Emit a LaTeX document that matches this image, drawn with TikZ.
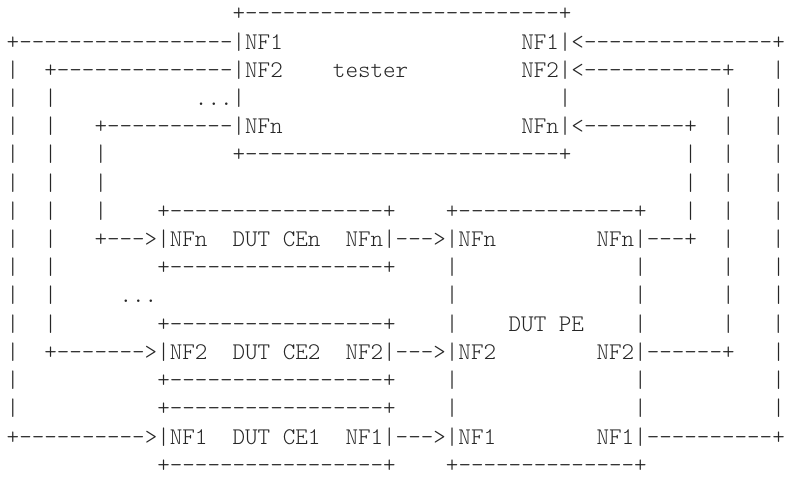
\documentclass[tikz,border=0pt]{standalone}
\usepackage{fontspec}
\newfontfamily\asciifont{lmmonolt10-regular.otf}[Ligatures=TeXOff]
\newdimen\cwd \cwd=12.55pt
\newcount\rc
\newcommand\D[1]{\rc=#1\relax\loop\ifnum\rc>0 -\advance\rc by -1 \repeat}
\newcommand\B[1]{\hspace*{#1\cwd}}
\tikzset{row/.style={anchor=base west, inner sep=0pt, outer sep=0pt,
  font=\asciifont\fontsize{23.905}{28}\selectfont, text=black!85}}
\newcommand\R[2]{\node[row] (r#1) at (6.7pt, {456pt-(#1-1)*28.2pt}) {#2};}
\begin{document}
\begin{tikzpicture}
\useasboundingbox (0,0) rectangle (787pt,477pt);
\R{1}{\B{18}+\D{25}+}
\R{2}{+\D{17}|NF1\B{19}NF1|<\D{15}+}
\R{3}{|\B{2}+\D{14}|NF2\B{4}tester\B{9}NF2|<\D{11}+\B{3}|}
\R{4}{|\B{2}|\B{11}...|\B{25}|\B{12}|\B{3}|}
\R{5}{|\B{2}|\B{3}+\D{10}|NFn\B{19}NFn|<\D{8}+\B{2}|\B{3}|}
\R{6}{|\B{2}|\B{3}|\B{10}+\D{25}+\B{9}|\B{2}|\B{3}|}
\R{7}{|\B{2}|\B{3}|\B{46}|\B{2}|\B{3}|}
\R{8}{|\B{2}|\B{3}|\B{4}+\D{17}+\B{4}+\D{14}+\B{3}|\B{2}|\B{3}|}
\R{9}{|\B{2}|\B{3}+\D{3}>|NFn\B{2}DUT\B{1}CEn\B{2}NFn|\D{3}>|NFn\B{8}NFn|\D{3}+\B{2}|\B{3}|}
\R{10}{|\B{2}|\B{8}+\D{17}+\B{4}|\B{14}|\B{6}|\B{3}|}
\R{11}{|\B{2}|\B{5}...\B{23}|\B{14}|\B{6}|\B{3}|}
\R{12}{|\B{2}|\B{8}+\D{17}+\B{4}|\B{4}DUT\B{1}PE\B{4}|\B{6}|\B{3}|}
\R{13}{|\B{2}+\D{7}>|NF2\B{2}DUT\B{1}CE2\B{2}NF2|\D{3}>|NF2\B{8}NF2|\D{6}+\B{3}|}
\R{14}{|\B{11}+\D{17}+\B{4}|\B{14}|\B{10}|}
\R{15}{|\B{11}+\D{17}+\B{4}|\B{14}|\B{10}|}
\R{16}{+\D{10}>|NF1\B{2}DUT\B{1}CE1\B{2}NF1|\D{3}>|NF1\B{8}NF1|\D{10}+}
\R{17}{\B{12}+\D{17}+\B{4}+\D{14}+}
\end{tikzpicture}
\end{document}
